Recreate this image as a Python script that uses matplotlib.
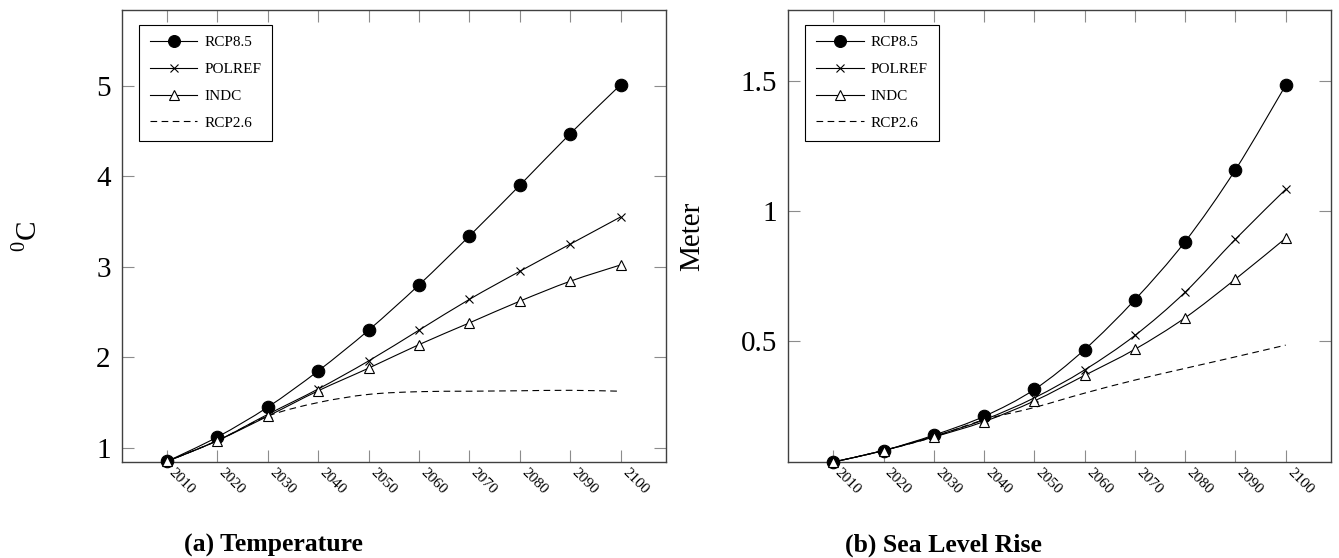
import matplotlib
matplotlib.use("Agg")
import matplotlib.pyplot as plt
import matplotlib.transforms as mtransforms
import numpy as np
from matplotlib.path import Path
from matplotlib.patches import PathPatch
from matplotlib.lines import Line2D

plt.rcParams['font.family'] = ['Liberation Serif', 'DejaVu Serif']
plt.rcParams['mathtext.fontset'] = 'custom'
plt.rcParams['mathtext.rm'] = 'Liberation Serif'

# data
years = [2010, 2020, 2030, 2040, 2050, 2060, 2070, 2080, 2090, 2100]

temp_rcp85 = [0.85, 1.12, 1.45, 1.85, 2.30, 2.80, 3.34, 3.90, 4.47, 5.01]
temp_polref = [0.85, 1.08, 1.37, 1.65, 1.96, 2.30, 2.64, 2.95, 3.25, 3.55]
temp_indc = [0.85, 1.08, 1.35, 1.63, 1.88, 2.14, 2.38, 2.62, 2.84, 3.02]
temp_rcp26 = [0.85, 1.08, 1.35, 1.50, 1.59, 1.62, 1.625, 1.63, 1.635, 1.625]

sea_rcp85 = [0.038, 0.082, 0.141, 0.213, 0.316, 0.469, 0.660, 0.883, 1.158, 1.482]
sea_polref = [0.038, 0.082, 0.137, 0.200, 0.284, 0.391, 0.523, 0.689, 0.892, 1.083]
sea_indc = [0.038, 0.082, 0.134, 0.193, 0.272, 0.370, 0.470, 0.591, 0.739, 0.896]
sea_rcp26 = [0.038, 0.082, 0.134, 0.200, 0.247, 0.302, 0.352, 0.397, 0.441, 0.486]

scenarios = ["RCP8.5", "POLREF", "INDC", "RCP2.6"]
temp_yticks = [1, 2, 3, 4, 5]
temp_yticklabels = ["1", "2", "3", "4", "5"]
sea_yticks = [0.5, 1.0, 1.5]
sea_yticklabels = ["0.5", "1", "1.5"]


def smooth_path(x, y):
    # pgfplots-like "smooth": cubic bezier through every point
    x = np.asarray(x, float)
    y = np.asarray(y, float)
    pts = np.column_stack([x, y])
    n = len(pts)
    verts = [pts[0]]
    codes = [Path.MOVETO]
    for i in range(n - 1):
        p0 = pts[i - 1] if i > 0 else pts[i]
        p1 = pts[i]
        p2 = pts[i + 1]
        p3 = pts[i + 2] if i + 2 < n else pts[i + 1]
        c1 = p1 + (p2 - p0) / 6.0
        c2 = p2 - (p3 - p1) / 6.0
        verts += [c1, c2, p2]
        codes += [Path.CURVE4] * 3
    return Path(verts, codes)


styles = {
    "RCP8.5": dict(marker='o', ms=9, mfc='k', mec='k', ls='-'),
    "POLREF": dict(marker='x', ms=6, mfc='k', mec='k', ls='-'),
    "INDC": dict(marker='^', ms=7, mfc='white', mec='k', ls='-'),
    "RCP2.6": dict(marker=None, ms=0, mfc='k', mec='k', ls=(0, (6, 4))),
}


def draw_panel(ax, series, yticks, yticklabels, ylim, ylabel):
    for name, vals in zip(scenarios, series):
        st = styles[name]
        patch = PathPatch(smooth_path(years, vals), facecolor='none',
                          edgecolor='k', lw=0.8, linestyle=st['ls'], zorder=2)
        ax.add_patch(patch)
        if st['marker'] is not None:
            ax.plot(years, vals, linestyle='none', marker=st['marker'],
                    ms=st['ms'], mfc=st['mfc'], mec=st['mec'], mew=0.8,
                    clip_on=False, zorder=3)

    handles = []
    for name in scenarios:
        st = styles[name]
        handles.append(Line2D([], [], color='k', lw=0.8, linestyle=st['ls'],
                              marker=st['marker'], ms=st['ms'] * 0.95,
                              mfc=st['mfc'], mec=st['mec'], mew=0.8))
    leg = ax.legend(handles, scenarios, loc='upper left',
                    bbox_to_anchor=(0.032, 0.968), borderaxespad=0,
                    fontsize=11, handlelength=3.1, handletextpad=0.45,
                    labelspacing=0.86, borderpad=0.72, fancybox=False,
                    framealpha=1, edgecolor='k')
    leg.get_frame().set_linewidth(0.8)

    ax.set_xlim(2001, 2109)
    ax.set_ylim(*ylim)
    ax.set_xticks(years)
    ax.set_yticks(yticks)
    ax.set_yticklabels(yticklabels, fontsize=21)
    ax.tick_params(direction='in', length=8.5, width=0.8, color='0.55',
                   top=True, right=True)
    ax.tick_params(axis='y', pad=8)
    ax.tick_params(axis='x', pad=3)
    ax.set_xticklabels([str(y) for y in years], rotation=-45, ha='left',
                       va='top', rotation_mode='anchor', fontsize=11)
    # pgfplots puts the rotated labels a bit right of the tick
    shift = mtransforms.ScaledTranslation(6 / 72, 0, ax.figure.dpi_scale_trans)
    for tick in ax.xaxis.get_major_ticks():
        tick.label1.set_transform(tick.label1.get_transform() + shift)
    for sp in ax.spines.values():
        sp.set_color('0.25')
        sp.set_linewidth(1.0)
    ax.set_ylabel(ylabel, fontsize=21)


fig = plt.figure(figsize=(13.39, 5.58), dpi=100)
ax1 = fig.add_axes([0.0909, 0.172, 0.4065, 0.81])
ax2 = fig.add_axes([0.5885, 0.172, 0.4055, 0.81])

draw_panel(ax1, [temp_rcp85, temp_polref, temp_indc, temp_rcp26],
           temp_yticks, temp_yticklabels, (0.843, 5.835), r'$^{0}$C')
draw_panel(ax2, [sea_rcp85, sea_polref, sea_indc, sea_rcp26],
           sea_yticks, sea_yticklabels, (0.038, 1.77), 'Meter')

ax1.yaxis.set_label_coords(-0.146, 0.5)
ax2.yaxis.set_label_coords(-0.152, 0.5)

fig.text(273 / 1339, 1 - 545 / 558, '(a) Temperature', fontsize=18.5,
         fontweight='bold', ha='center', va='center')
fig.text(943 / 1339, 1 - 545 / 558, '(b) Sea Level Rise', fontsize=18.5,
         fontweight='bold', ha='center', va='center')

fig.savefig('out.png', dpi=100)
